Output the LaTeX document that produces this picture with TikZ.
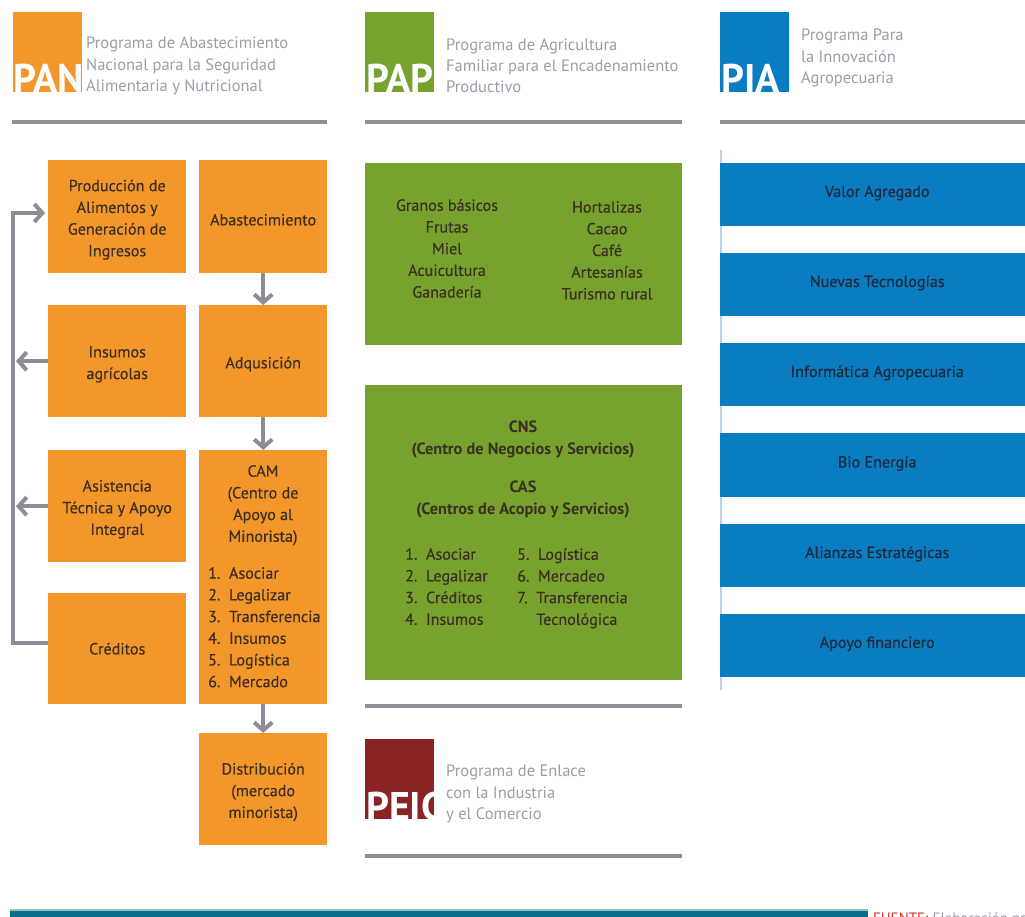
\documentclass[tikz,border=0pt]{standalone}
\usepackage{fontspec}
\setmainfont{PT Sans}
\newfontfamily\boxfont{PT Sans}[FakeBold=0.35]
\usetikzlibrary{arrows.meta}

\definecolor{panorange}{HTML}{F4972B}
\definecolor{papgreen}{HTML}{77A22E}
\definecolor{piablue}{HTML}{0A7CC2}
\definecolor{peicred}{HTML}{8B2326}
\definecolor{rulegray}{HTML}{8E8E94}
\definecolor{arrowgray}{HTML}{8C8D96}
\definecolor{captiongray}{HTML}{9C9CAA}
\definecolor{ink}{HTML}{3A2F22}
\definecolor{bluink}{HTML}{1E2A3A}
\definecolor{tealbar}{HTML}{0B6F8C}
\definecolor{fuentered}{HTML}{D0332B}
\definecolor{guideblue}{HTML}{B7D5EE}

% strut that lowers centred box texts a little
\newcommand\topgap{\rule{0pt}{17.5pt}}

\begin{document}
\begin{tikzpicture}[x=1pt,y=-1pt,
  txt/.style={font=\boxfont\fontsize{16.1}{21.7}\selectfont, text=ink, align=center, inner sep=0pt},
  btxt/.style={txt, font=\fontsize{16.3}{21.7}\selectfont\bfseries},
  caption/.style={font=\fontsize{16.5}{21.2}\selectfont, text=captiongray, align=left, anchor=west, inner sep=0pt},
  logoletters/.style={font=\fontsize{40}{40}\selectfont\bfseries, text=white, anchor=base west, inner sep=0pt},
  blockbox/.style={fill=#1, draw=none, anchor=north west, inner sep=0pt, txt},
  piabox/.style={blockbox=piablue, text=bluink, minimum width=305pt, minimum height=63pt,
    text depth=7pt},
  rule/.style={draw=rulegray, line width=4pt},
  arr/.style={draw=arrowgray, line width=4pt,
    -{Straight Barb[length=8pt,width=18pt,line width=4pt]}}
]
\useasboundingbox (0,0) rectangle (1025,917);
\clip (0,0) rectangle (1025,917);

% ---------- headers: logo squares with program names ----------
% PAN
\fill[panorange] (13,12) rectangle (82,92);
\begin{scope}
  \clip (13,12) rectangle (82,92);
  \node[logoletters] (panlogo) at (13,93) {PAN};
\end{scope}
\node[caption] (pantitle) at (86,66) {Programa de Abastecimiento\\Nacional para la Seguridad\\Alimentaria y Nutricional};
\draw[rule] (12,122) -- (327,122);

% PAP
\fill[papgreen] (365,12) rectangle (434,92);
\begin{scope}
  \clip (365,12) rectangle (434,92);
  \node[logoletters] (paplogo) at (366,93) {PAP};
\end{scope}
\node[caption] (paptitle) at (446,66) {Programa de Agricultura\\Familiar para el Encadenamiento\\Productivo};
\draw[rule] (365,122) -- (682,122);

% PIA
\fill[piablue] (720,12) rectangle (789,92);
\begin{scope}
  \clip (720,12) rectangle (789,92);
  \node[logoletters] (pialogo) at (721,93) {PIA};
\end{scope}
\node[caption] (piatitle) at (801,58) {Programa Para\\la Innovación\\Agropecuaria};
\draw[rule] (720,122) -- (1025,122);

% ---------- PAN column ----------
\node[blockbox=panorange, minimum width=138pt, minimum height=113pt] (prod) at (48,160)
  {\topgap Producción de\\Alimentos y\\Generación de\\Ingresos};
\node[blockbox=panorange, minimum width=128pt, minimum height=113pt] (abast) at (199,160)
  {\topgap Abastecimiento};
\node[blockbox=panorange, minimum width=138pt, minimum height=112pt] (ins) at (48,305)
  {\topgap Insumos\\agrícolas};
\node[blockbox=panorange, minimum width=128pt, minimum height=112pt] (adq) at (199,305)
  {\topgap Adqusición};
\node[blockbox=panorange, minimum width=138pt, minimum height=112pt] (asis) at (48,450)
  {\topgap Asistencia\\Técnica y Apoyo\\Integral};
\node[blockbox=panorange, minimum width=128pt, minimum height=254pt] (cam) at (199,450) {};
\node[txt, anchor=north] (camtitle) at (263,465)
  {CAM\\(Centro de\\Apoyo al\\Minorista)};
\node[txt, anchor=north west, align=left] (camlist) at (208,567)
  {1.\ \ Asociar\\2.\ \ Legalizar\\3.\ \ Transferencia\\4.\ \ Insumos\\5.\ \ Logística\\6.\ \ Mercado};
\node[blockbox=panorange, minimum width=138pt, minimum height=111pt] (cred) at (48,593)
  {Créditos};
\node[blockbox=panorange, minimum width=128pt, minimum height=112pt] (dist) at (199,733)
  {\topgap Distribución\\(mercado\\minorista)};

% flow down the supply chain
\draw[arr] (abast) -- (adq);
\draw[arr] (adq) -- (cam);
\draw[arr] (cam) -- (dist);

% feedback loop on the left
\coordinate (loopB) at (13,643);
\coordinate (loopT) at (13,213);
\draw[arr, shorten >=3pt, line join=miter] (cred.west |- loopB) -- (loopB) -- (loopT) -- (loopT -| prod.west);
\draw[arr, shorten >=3pt] (ins.west) -- (ins.west -| loopT);
\draw[arr, shorten >=3pt] (asis.west) -- (asis.west -| loopT);

% ---------- PAP column ----------
\node[blockbox=papgreen, minimum width=317pt, minimum height=182pt] (pap1) at (365,163) {};
\node[txt, anchor=north] (papleft) at (447,199)
  {Granos básicos\\Frutas\\Miel\\Acuicultura\\Ganadería};
\node[txt, anchor=north] (papright) at (607,201)
  {Hortalizas\\Cacao\\Café\\Artesanías\\Turismo rural};

\node[blockbox=papgreen, minimum width=317pt, minimum height=295pt] (pap2) at (365,385) {};
\node[btxt, anchor=north] (cns) at (523,421)
  {CNS\\(Centro de Negocios y Servicios)};
\node[btxt, anchor=north] (cas) at (523,481)
  {CAS\\(Centros de Acopio y Servicios)};
\node[txt, anchor=north west, align=left] (caslistA) at (405,548)
  {1.\ \ Asociar\\2.\ \ Legalizar\\3.\ \ Créditos\\4.\ \ Insumos};
\node[txt, anchor=north west, align=left] (caslistB) at (517,548)
  {5.\ \ Logística\\6.\ \ Mercadeo\\7.\ \ Transferencia\\\phantom{7.\ \ }Tecnológica};

% PEIC
\draw[rule] (365,706) -- (682,706);
\fill[peicred] (365,739) rectangle (434,819);
\begin{scope}
  \clip (365,739) rectangle (434,819);
  \node[logoletters] (peiclogo) at (366,820) {PEIC};
\end{scope}
\node[caption] (peictitle) at (446,794) {Programa de Enlace\\con la Industria\\y el Comercio};
\draw[rule] (365,856) -- (682,856);

% ---------- PIA column ----------
\draw[guideblue, line width=1.2pt] (721,150) -- (721,690);
\node[piabox] (pia1) at (720,163) {\hspace{9pt}Valor Agregado};
\node[piabox] (pia2) at (720,253) {\hspace{9pt}Nuevas Tecnologías};
\node[piabox] (pia3) at (720,343) {\hspace{9pt}Informática Agropecuaria};
\node[piabox, minimum height=64pt] (pia4) at (720,433) {\hspace{9pt}Bio Energía};
\node[piabox] (pia5) at (720,524) {\hspace{9pt}Alianzas Estratégicas};
\node[piabox] (pia6) at (720,614) {\hspace{9pt}Apoyo financiero};

% ---------- footer ----------
\fill[tealbar] (10,910) rectangle (868,920);
\fill[tealbar!45!white] (10,909) rectangle (868,911);
\node[anchor=base west, inner sep=0pt, font=\fontsize{15}{15}\selectfont] (fuente) at (873,923)
  {\textcolor{fuentered}{FUENTE:} \textcolor{captiongray}{Elaboración propia}};
\end{tikzpicture}
\end{document}
